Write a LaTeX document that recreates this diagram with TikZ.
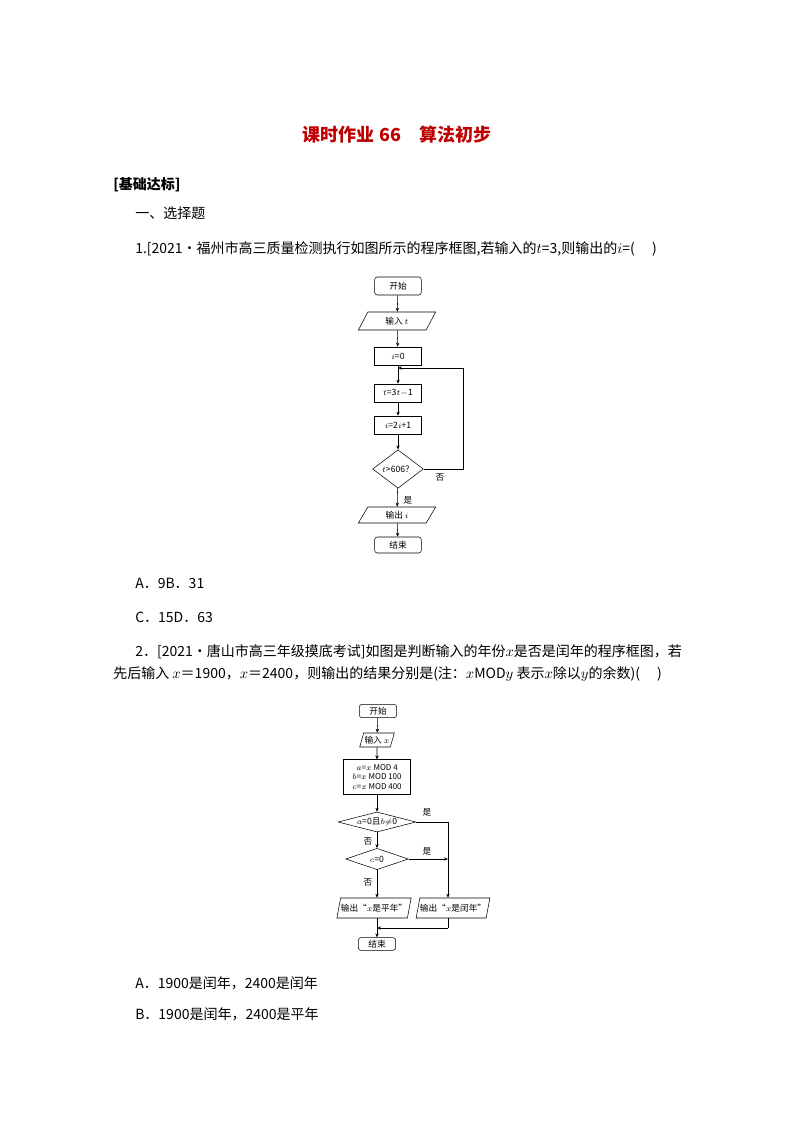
\documentclass[tikz,border=0pt]{standalone}
\usepackage{fontspec}
\setmainfont{Noto Sans CJK SC}
\usetikzlibrary{arrows.meta,shapes.geometric,positioning}

\begin{document}
\begin{tikzpicture}[x=0.75pt, y=-0.75pt,
    arrow/.style = {draw, thin, -{Stealth[length=3pt,width=2.5pt]}},
    % styles of boxes
    term/.style = {draw, thin, rounded corners=2pt, inner sep=0pt, font=\fontsize{6.5}{7}\selectfont},
    proc/.style = {draw, thin, inner sep=0pt, font=\fontsize{6.5}{7}\selectfont},
    io/.style = {draw, thin, trapezium, trapezium left angle=65, trapezium right angle=115,
      trapezium stretches=true, inner sep=0pt, font=\fontsize{6.5}{7}\selectfont},
    dec/.style = {draw, thin, diamond, inner sep=0pt, font=\fontsize{6.5}{7}\selectfont},
    lab/.style = {font=\fontsize{6.5}{7}\selectfont, inner sep=1pt},
    txt/.style = {anchor=west, inner sep=0pt, font=\fontsize{10.5}{12}\selectfont},
  ]
  \useasboundingbox[fill=white] (0,0) rectangle (794,1123);

  % page text
  \node[font=\fontsize{13.5}{15}\bfseries\selectfont, text={rgb,255:red,192;green,0;blue,0}] (title) at (397,135) {课时作业 66\quad 算法初步};
  \node[txt, font=\fontsize{10.5}{12}\bfseries\selectfont] (sec) at (113,185) {[基础达标]};
  \node[txt] (sub) at (135,213) {一、选择题};
  \node[txt] (q1) at (135,249) {1.[2021·福州市高三质量检测执行如图所示的程序框图,若输入的$t$=3,则输出的$i$=(\quad\ )};
  \node[txt] (a1) at (135,583) {A．9B．31};
  \node[txt] (c1) at (135,617) {C．15D．63};
  \node[txt] (q2) at (135,652) {2．[2021·唐山市高三年级摸底考试]如图是判断输入的年份$x$是否是闰年的程序框图，若};
  \node[txt] (q2b) at (113,674) {先后输入 $x$＝1900，$x$＝2400，则输出的结果分别是(注：$x$MOD$y$ 表示$x$除以$y$的余数)(\quad\ )};
  \node[txt] (a2) at (135,983) {A．1900是闰年，2400是闰年};
  \node[txt] (b2) at (135,1014) {B．1900是闰年，2400是平年};

  % first chart
  \node[term, minimum width=35pt, minimum height=13.5pt] (s1) at (398,286) {开始};
  \node[io, minimum width=58pt, minimum height=13.5pt] (in1) at (397,321) {输入 $t$};
  \node[proc, minimum width=35pt, minimum height=13.5pt] (p1) at (398,356) {$i$=0};
  \node[proc, minimum width=35pt, minimum height=13.5pt] (p2) at (398,393) {$t$=3$t$$-$1};
  \node[proc, minimum width=35pt, minimum height=13.5pt] (p3) at (398,425) {$i$=2$i$+1};
  \node[dec, minimum width=38pt, minimum height=26pt] (d1) at (398,469) {$t$>606？};
  \node[io, minimum width=58pt, minimum height=12pt] (out1) at (397,515) {输出 $i$};
  \node[term, minimum width=35pt, minimum height=12pt] (e1) at (398,545) {结束};
  \coordinate (j1) at (398,368);
  \coordinate (r1) at (463,368);
  \draw[arrow] (s1) -- (in1);
  \draw[arrow] (in1) -- (p1);
  \draw[arrow] (p1) -- (p2);
  \draw[arrow] (p2) -- (p3);
  \draw[arrow] (p3) -- (d1);
  \draw[arrow] (d1) -- (out1);
  \draw[arrow] (out1) -- (e1);
  \draw[arrow] (d1.east) -| (r1) -- (j1);
  \node[lab] (no1) at (440,477) {否};
  \node[lab] (yes1) at (408,500) {是};

  % second chart
  \node[term, minimum width=28pt, minimum height=10pt] (s2) at (378,711) {开始};
  \node[io, minimum width=26pt, minimum height=10.5pt] (in2) at (377,740) {输入 $x$};
  \node[proc, minimum width=50pt, minimum height=26pt, align=center, font=\fontsize{6}{7}\selectfont] (m2) at (377,777)
    {$a$=$x$ MOD 4\\$b$=$x$ MOD 100\\$c$=$x$ MOD 400};
  \node[dec, aspect=4.5, minimum height=15pt] (q1d) at (377,822) {$a$=0且$b$$\neq$0};
  \node[dec, aspect=3.5, minimum width=47pt, minimum height=16pt] (q2d) at (377,859) {$c$=0};
  \node[io, minimum width=56pt, minimum height=15pt] (o1) at (374,908) {输出“$x$是平年”};
  \node[io, minimum width=46pt, minimum height=15pt] (o2) at (453,908) {输出“$x$是闰年”};
  \node[term, minimum width=28pt, minimum height=9.5pt] (e2) at (377,944) {结束};
  \coordinate (r2) at (448,822);
  \coordinate (m) at (448,928);
  \draw[arrow] (s2) -- (in2);
  \draw[arrow] (in2) -- (m2);
  \draw[arrow] (m2) -- (q1d);
  \draw[arrow] (q1d) -- (q2d);
  \draw[arrow] (q2d) -- (q2d.south |- o1.north);
  \draw[arrow] (q1d.east) -- (r2) -- (r2 |- o2.north);
  \draw[arrow] (q2d.east) -- (q2d.east -| r2);
  \draw[arrow] (q2d.south |- o1.south) -- (e2);
  \draw (r2 |- o2.south) -- (m);
  \draw[arrow] (m) -- (m -| e2.north);
  \node[lab] (yes2) at (427,812) {是};
  \node[lab] (no2) at (368,841) {否};
  \node[lab] (yes3) at (427,851) {是};
  \node[lab] (no3) at (368,882) {否};
\end{tikzpicture}
\end{document}
